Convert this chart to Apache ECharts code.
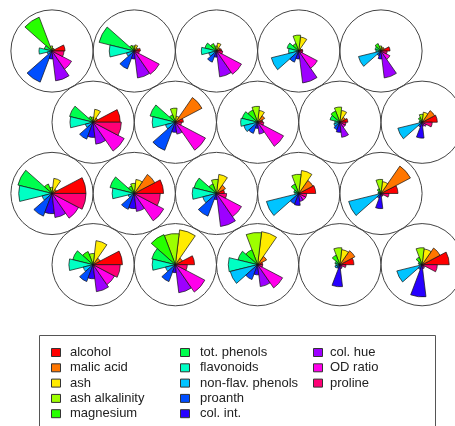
<!DOCTYPE html>
<html>
<head>
<meta charset="utf-8">
<script src="https://cdn.jsdelivr.net/npm/echarts@6/dist/echarts.min.js"></script>
<style>
  html, body { margin: 0; padding: 0; background: #fff; }
  #chart { width: 455px; height: 426px; }
</style>
</head>
<body>
<div id="chart"></div>
<script>
// variables, in segment order (counter-clockwise from east)
var varNames = ['alcohol', 'malic acid', 'ash', 'ash alkalinity', 'magnesium',
  'tot. phenols', 'flavonoids', 'non-flav. phenols', 'proanth', 'col. int.',
  'col. hue', 'OD ratio', 'proline'];

// rainbow(13)
var varColors = ['#FF0000', '#FF7600', '#FFEB00', '#9DFF00', '#27FF00', '#00FF4E',
  '#00FFC4', '#00C4FF', '#004EFF', '#2700FF', '#9D00FF', '#FF00EB', '#FF0076'];

// codebook vectors (scaled 0..1), one row of the map per array, left to right
var row1Codes = [
  [0.36, 0.08, 0.08, 0.14, 1.00, 0.22, 0.36, 0.14, 0.92, 0.22, 0.83, 0.61, 0.33],
  [0.17, 0.11, 0.17, 0.14, 0.17, 1.00, 0.69, 0.22, 0.53, 0.22, 0.75, 0.78, 0.14],
  [0.14, 0.11, 0.22, 0.14, 0.22, 0.33, 0.42, 0.22, 0.33, 0.17, 0.72, 0.78, 0.17],
  [0.11, 0.08, 0.39, 0.44, 0.22, 0.33, 0.28, 0.78, 0.33, 0.22, 0.89, 0.58, 0.11],
  [0.25, 0.11, 0.11, 0.14, 0.22, 0.17, 0.14, 0.64, 0.14, 0.22, 0.75, 0.28, 0.17]
];
var row2Codes = [
  [0.75, 0.14, 0.36, 0.14, 0.17, 0.67, 0.64, 0.22, 0.50, 0.42, 0.61, 0.97, 0.78],
  [0.22, 0.83, 0.17, 0.39, 0.22, 0.72, 0.64, 0.28, 0.83, 0.28, 0.33, 0.94, 0.17],
  [0.14, 0.22, 0.33, 0.44, 0.36, 0.44, 0.47, 0.39, 0.33, 0.17, 0.33, 0.81, 0.17],
  [0.22, 0.17, 0.33, 0.42, 0.33, 0.28, 0.14, 0.17, 0.22, 0.28, 0.42, 0.17, 0.17],
  [0.42, 0.39, 0.28, 0.22, 0.14, 0.08, 0.08, 0.69, 0.14, 0.44, 0.11, 0.14, 0.28]
];
var row3Codes = [
  [0.94, 0.14, 0.42, 0.17, 0.28, 0.97, 0.92, 0.28, 0.67, 0.56, 0.67, 0.83, 0.94],
  [0.81, 0.64, 0.39, 0.28, 0.22, 0.69, 0.61, 0.17, 0.47, 0.42, 0.50, 0.92, 0.72],
  [0.22, 0.28, 0.53, 0.39, 0.28, 0.64, 0.67, 0.39, 0.67, 0.17, 0.92, 0.78, 0.28],
  [0.47, 0.44, 0.64, 0.53, 0.28, 0.14, 0.11, 0.92, 0.31, 0.33, 0.22, 0.22, 0.22],
  [0.47, 0.92, 0.33, 0.39, 0.14, 0.08, 0.08, 0.92, 0.14, 0.42, 0.08, 0.08, 0.22]
];
var row4Codes = [
  [0.81, 0.22, 0.67, 0.31, 0.39, 0.58, 0.67, 0.28, 0.50, 0.39, 0.75, 0.67, 0.75],
  [0.53, 0.22, 0.97, 0.86, 0.89, 0.67, 0.64, 0.28, 0.50, 0.22, 0.78, 0.92, 0.33],
  [0.14, 0.28, 0.92, 0.89, 0.44, 0.56, 0.81, 0.78, 0.44, 0.28, 0.61, 0.78, 0.14],
  [0.39, 0.47, 0.42, 0.47, 0.28, 0.14, 0.11, 0.14, 0.11, 0.61, 0.11, 0.08, 0.17],
  [0.75, 0.56, 0.44, 0.47, 0.22, 0.11, 0.08, 0.72, 0.14, 0.89, 0.11, 0.08, 0.42]
];

var mapRows = [row1Codes, row2Codes, row3Codes, row4Codes];
var hexH = Math.sqrt(3) / 2;

// hexagonal grid: odd rows shifted half a unit
var unitData = [];
mapRows.forEach(function (row, r) {
  row.forEach(function (codes, c) {
    unitData.push([c + (r % 2) * 0.5, r * hexH].concat(codes));
  });
});

var step = 2 * Math.PI / varNames.length;
var segLen = 0.44;   // longest segment, in map units

function renderUnit(params, api) {
  var c = api.coord([api.value(0), api.value(1)]);
  var unit = api.size([1, 0])[0];
  var kids = [];
  for (var k = 0; k < varNames.length; k++) {
    var r = api.value(k + 2) * unit * segLen;
    kids.push({
      type: 'sector',
      shape: { cx: c[0], cy: c[1], r0: 0, r: r,
               startAngle: -(k + 1) * step, endAngle: -k * step, clockwise: true },
      style: { fill: varColors[k], stroke: '#111', lineWidth: 0.7 }
    });
  }
  kids.push({
    type: 'circle',
    shape: { cx: c[0], cy: c[1], r: unit * 0.5 },
    style: { fill: 'transparent', stroke: '#444', lineWidth: 1 }
  });
  return { type: 'group', children: kids };
}

// legend, 3 columns of 5
var legendEls = [{
  type: 'rect', shape: { x: 39.5, y: 335.5, width: 396, height: 95 },
  style: { fill: '#fff', stroke: '#555', lineWidth: 1 }
}];
var colBoxX = [51, 180, 313];
var colTextX = [70, 200, 330];
varNames.forEach(function (name, i) {
  var col = Math.floor(i / 5), row = i % 5;
  var y = 352.5 + row * 15.3;
  legendEls.push({
    type: 'rect', shape: { x: colBoxX[col] + 0.5, y: y - 4, width: 9, height: 8 },
    style: { fill: varColors[i], stroke: '#333', lineWidth: 1 }
  });
  legendEls.push({
    type: 'text', x: colTextX[col], y: y,
    style: { text: name, fill: '#222', font: '13px "Liberation Sans", Arial, sans-serif',
             verticalAlign: 'middle' }
  });
});

var myChart = echarts.init(document.getElementById('chart'));
myChart.setOption({
  animation: false,
  backgroundColor: '#fff',
  grid: { left: 52, top: 51, width: 370.1, height: 213.7 },
  xAxis: { type: 'value', min: 0, max: 4.5, show: false },
  yAxis: { type: 'value', min: 0, max: 3 * hexH, inverse: true, show: false },
  graphic: legendEls,
  series: [{
    type: 'custom',
    renderItem: renderUnit,
    data: unitData,
    clip: false
  }]
});
</script>
</body>
</html>
